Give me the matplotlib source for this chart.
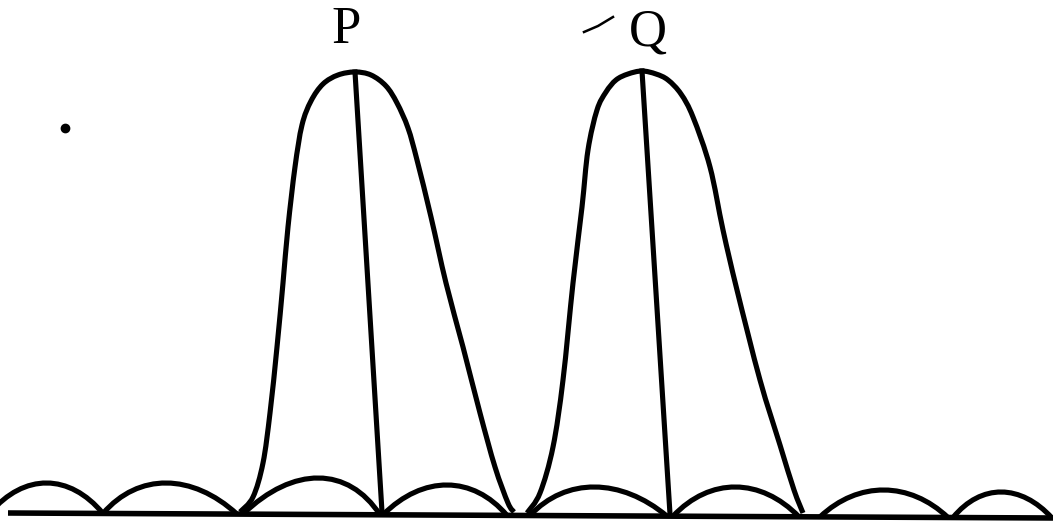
import numpy as np
import matplotlib
matplotlib.use("Agg")
import matplotlib.pyplot as plt
from matplotlib.path import Path
from matplotlib.patches import PathPatch

# pixel units (y grows downwards)
base_x = [8, 1053]
base_y = [513, 518]

# main maxima outlines
p_lobe_x = [240, 253, 263, 270, 277, 283, 288, 295, 302, 311, 323, 338, 355, 371, 386, 397, 408, 417, 431, 446, 463, 480, 495, 508, 514]
p_lobe_y = [512, 497, 463, 413, 347, 283, 227, 167, 125, 101, 84, 75, 72, 75, 86, 103, 128, 160, 217, 283, 347, 413, 467, 503, 512]
q_lobe_x = [527, 540, 553, 563, 573, 582, 588, 597, 606, 616, 628, 642, 656, 668, 681, 693, 710, 723, 737, 760, 780, 794, 803]
q_lobe_y = [513, 493, 447, 380, 283, 207, 150, 110, 92, 80, 74, 71, 74, 80, 94, 117, 167, 230, 290, 380, 445, 490, 513]

# centre lines (top, bottom)
p_line_x = [355, 382]
p_line_y = [72, 512]
q_line_x = [642, 670]
q_line_y = [71, 514]

# secondary maxima: start, peak, end, peak level
hump_start = [-10, 103, 243, 383, 530, 673, 820, 953]
hump_peak = [47, 162, 327, 450, 590, 735, 884, 1000]
hump_end = [103, 237, 380, 507, 667, 799, 948, 1052]
hump_top = [483, 483, 478, 485, 487, 487, 490, 492]

labels = ["P", "Q"]
label_x = [346, 648]
label_y = [30, 33]

lw = 3.7


def smooth_path(xs, ys):
    # bezier segments through the traced points so the outline is not jagged
    pts = np.column_stack([xs, ys]).astype(float)
    n = len(pts)
    verts = [pts[0]]
    codes = [Path.MOVETO]
    for i in range(n - 1):
        p0 = pts[max(i - 1, 0)]
        p1 = pts[i]
        p2 = pts[i + 1]
        p3 = pts[min(i + 2, n - 1)]
        verts += [p1 + (p2 - p0) / 6, p2 - (p3 - p1) / 6, p2]
        codes += [Path.CURVE4] * 3
    return Path(verts, codes)


fig = plt.figure(figsize=(10.53, 5.26), dpi=100)
ax = fig.add_axes([0, 0, 1, 1])
ax.set_xlim(0, 1053)
ax.set_ylim(526, 0)
ax.axis("off")

# baseline
ax.plot(base_x, base_y, color="black", lw=lw + 0.3, solid_capstyle="butt")

# small humps along the baseline
for x0, xp, x1, yt in zip(hump_start, hump_peak, hump_end, hump_top):
    y0 = np.interp(x0, base_x, base_y)
    y1 = np.interp(x1, base_x, base_y)
    h = (y0 + y1) / 2 - yt
    c1 = (x0 + 0.6 * (xp - x0), y0 - 4 / 3 * h)
    c2 = (x1 - 0.6 * (x1 - xp), y1 - 4 / 3 * h)
    path = Path([(x0, y0), c1, c2, (x1, y1)],
                [Path.MOVETO, Path.CURVE4, Path.CURVE4, Path.CURVE4])
    ax.add_patch(PathPatch(path, facecolor="none", edgecolor="black", lw=lw))

# the two main peaks and their centre lines
for xs, ys in [(p_lobe_x, p_lobe_y), (q_lobe_x, q_lobe_y)]:
    ax.add_patch(PathPatch(smooth_path(xs, ys), facecolor="none",
                           edgecolor="black", lw=lw, joinstyle="round"))
ax.plot(p_line_x, p_line_y, color="black", lw=lw)
ax.plot(q_line_x, q_line_y, color="black", lw=lw)

for lab, x, y in zip(labels, label_x, label_y):
    ax.text(x, y, lab, fontsize=38, family="Liberation Serif",
            ha="center", va="center", color="black")

# stray pen marks on the scan
ax.plot([584, 598, 613], [32, 26, 17], color="black", lw=1.8)
ax.plot([65], [128], "o", color="black", markersize=6)

fig.savefig("out.png", dpi=100)
